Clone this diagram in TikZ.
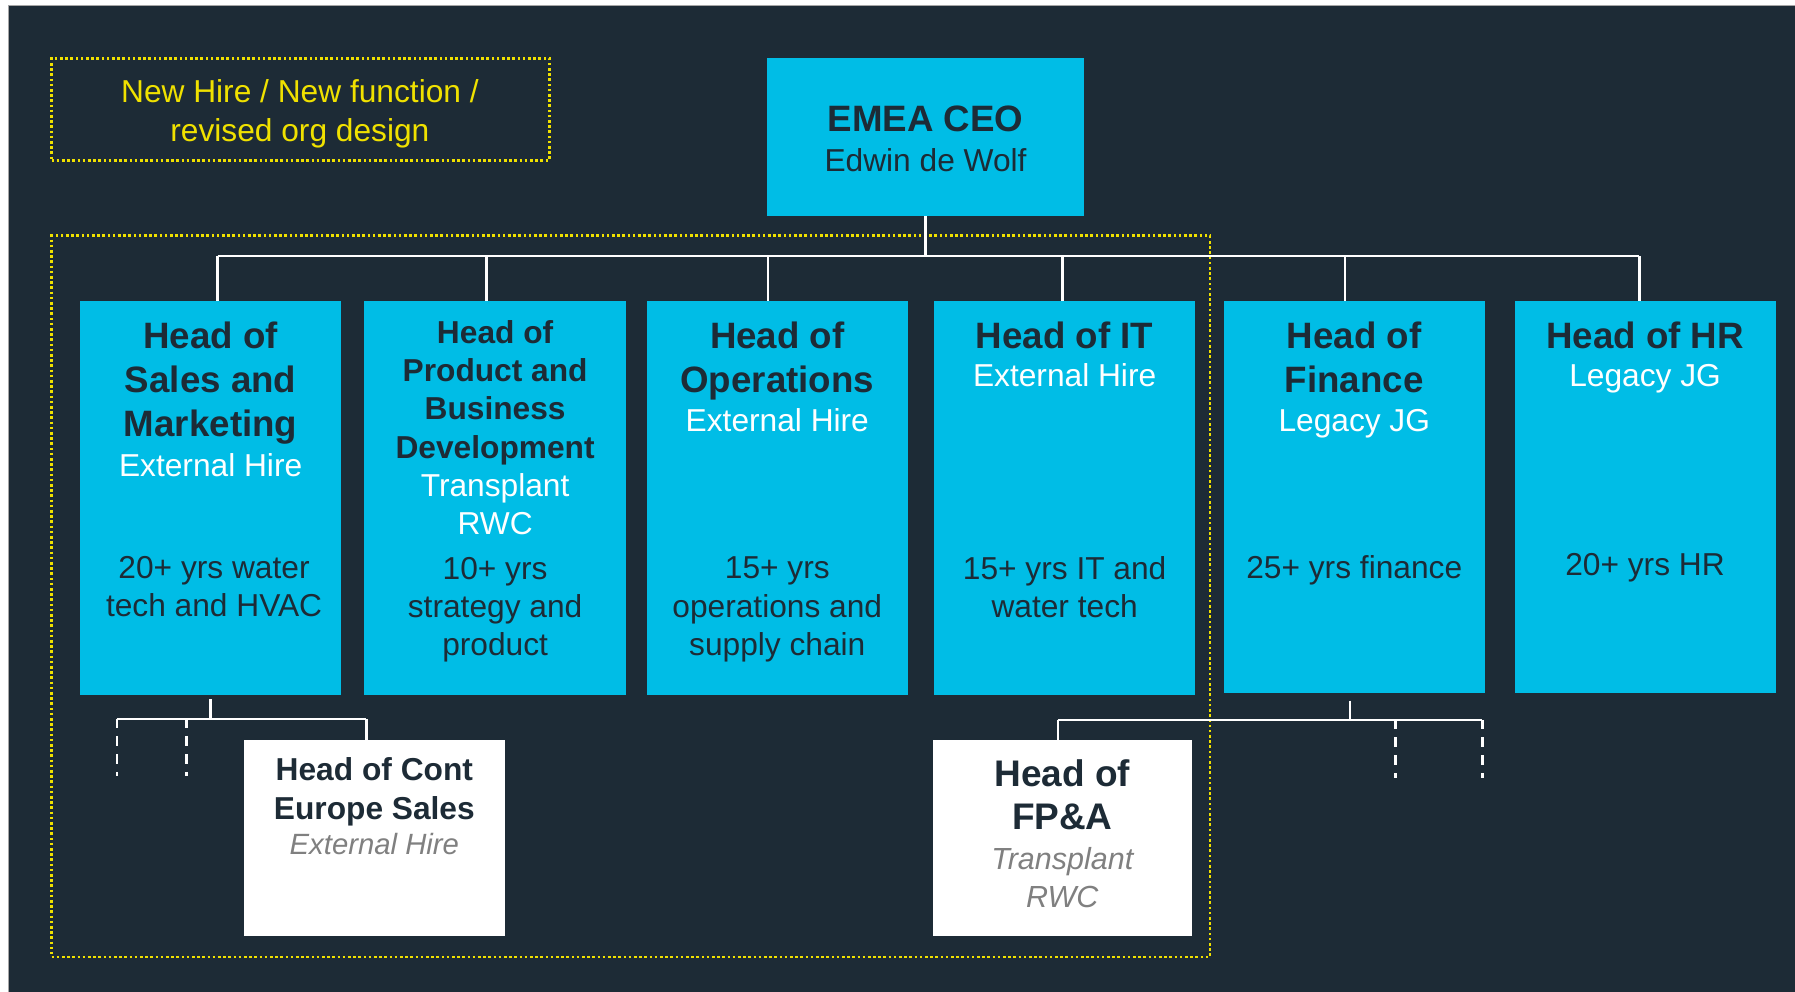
\documentclass[tikz,border=0pt]{standalone}
\usepackage{fontspec}
\setmainfont{Liberation Sans}
\usetikzlibrary{fit}
\definecolor{bg}{HTML}{1D2B36}
\definecolor{cyanbox}{HTML}{00BDE6}
\definecolor{ylw}{HTML}{F0E100}
\definecolor{gry}{HTML}{808080}
\newcommand\fhead{\fontsize{36.7}{44}\selectfont\bfseries}
\newcommand\fheadm{\fontsize{31.7}{38.2}\selectfont\bfseries}
\newcommand\freg{\fontsize{31.7}{38.2}\selectfont}
\newcommand\fitl{\fontsize{30.5}{38}\selectfont\itshape}
\begin{document}
\begin{tikzpicture}[x=1.1448pt,y=-1.1448pt,
  box/.style={fill=cyanbox,inner sep=0pt,outer sep=0pt,draw=none},
  wbox/.style={fill=white,inner sep=0pt,outer sep=0pt,draw=none},
  conn/.style={draw=white,line width=2.4pt},
  dconn/.style={draw=white,line width=2.4pt,dash pattern=on 10pt off 8pt,dash phase=1pt},
  dotbox/.style={draw=ylw,line width=2.7pt,dash pattern=on 2.6pt off 2.6pt},
  txt/.style={inner sep=0pt,outer sep=0pt,align=center,text depth=0pt},
  hd/.style={txt,font=\fhead,text=bg},
  hdm/.style={txt,font=\fheadm,text=bg},
  sub/.style={txt,font=\freg,text=white},
  body/.style={txt,font=\freg,text=bg},
  itl/.style={txt,font=\fitl,text=gry}]
\useasboundingbox (0,0) rectangle (1568,866.5);
\fill[white] (0,0) rectangle (1568,866.5);
\fill[bg] (7.5,5) rectangle (1568,866.5);
\draw[gray!70,line width=0.8pt] (7.5,866.5) -- (7.5,5) -- (1568,5);

% legend
\node[dotbox,inner sep=0pt,fit={(45,51)(480,140)}] (legend) {};
\node[txt,font=\freg,text=ylw] (legendtxt) at (262,96.5) {New Hire / New function /\\revised org design};

% dotted group
\node[dotbox,inner sep=0pt,fit={(45,206)(1057,836)}] (group) {};

% CEO
\node[box,fit={(670,51)(947,189)}] (ceo) {};
\node[hd] (ceot) at (808.5,104) {EMEA CEO};
\node[body] (ceon) at (808.5,140) {Edwin de Wolf};

% level 2 boxes
\node[box,fit={(70,263)(298,607)}] (b1) {};
\node[box,fit={(318,263)(547,607)}] (b2) {};
\node[box,fit={(565,263)(793,607)}] (b3) {};
\node[box,fit={(816,263)(1044,607)}] (b4) {};
\node[box,fit={(1069,263)(1297,605)}] (b5) {};
\node[box,fit={(1323,263)(1551,605)}] (b6) {};

% white boxes
\node[wbox,fit={(213,646)(441,818)}] (w1) {};
\node[wbox,fit={(815,646)(1041,818)}] (w2) {};

% texts box 1
\node[hd] (b1t) at (184,331.5) {Head of\\Sales and\\Marketing};
\node[sub] (b1s) at (184,406) {External Hire};
\node[body] (b1b) at (187,512.5) {20+ yrs water\\tech and HVAC};
% box 2
\node[hdm] (b2t) at (432.5,340) {Head of\\Product and\\Business\\Development};
\node[sub] (b2s) at (432.5,440) {Transplant\\RWC};
\node[body] (b2b) at (432.5,529.5) {10+ yrs\\strategy and\\product};
% box 3
\node[hd] (b3t) at (679,312) {Head of\\Operations};
\node[sub] (b3s) at (679,367) {External Hire};
\node[body] (b3b) at (679,529.5) {15+ yrs\\operations and\\supply chain};
% box 4
\node[hd] (b4t) at (930,293) {Head of IT};
\node[sub] (b4s) at (930,328) {External Hire};
\node[body] (b4b) at (930,512.5) {15+ yrs IT and\\water tech};
% box 5
\node[hd] (b5t) at (1183,312) {Head of\\Finance};
\node[sub] (b5s) at (1183,367) {Legacy JG};
\node[body] (b5b) at (1183,495) {25+ yrs finance};
% box 6
\node[hd] (b6t) at (1437,293) {Head of HR};
\node[sub] (b6s) at (1437,328) {Legacy JG};
\node[body] (b6b) at (1437,493) {20+ yrs HR};

% white box texts
\node[txt,font={\fontsize{31.7}{39}\selectfont\bfseries},text=bg] (w1t) at (327,689) {Head of Cont\\Europe Sales};
\node[txt,font={\fontsize{29.3}{36}\selectfont\itshape},text=gry] (w1s) at (327,737) {External Hire};
\node[txt,font={\fontsize{37}{43.5}\selectfont\bfseries},text=bg] (w2t) at (928,694) {Head of\\FP\&A};
\node[itl] (w2s) at (928,766.5) {Transplant\\RWC};

% connectors level 1 -> 2
\coordinate (j1) at (190,223.5);
\coordinate (j2) at (425,223.5);
\coordinate (j3) at (671,223.5);
\coordinate (j4) at (928,223.5);
\coordinate (j5) at (1175,223.5);
\coordinate (j6) at (1432,223.5);
\draw[conn] (ceo.south) -- (ceo.south |- j1);
\draw[conn] (j1) -- (j6);
\draw[conn] (j1) -- (j1 |- b1.north);
\draw[conn] (j2) -- (j2 |- b2.north);
\draw[conn] (j3) -- (j3 |- b3.north);
\draw[conn] (j4) -- (j4 |- b4.north);
\draw[conn] (j5) -- (j5 |- b5.north);
\draw[conn] (j6) -- (j6 |- b6.north);

% sales sub-tree
\coordinate (s0) at (184,611);
\coordinate (sa) at (102,628);
\coordinate (sb) at (163,628);
\coordinate (sc) at (320,628);
\coordinate (sae) at (102,678);
\coordinate (sbe) at (163,678);
\draw[conn] (s0) -- (s0 |- sa);
\draw[conn] (sa) -- (sc);
\draw[conn] (sc) -- (sc |- w1.north);
\draw[dconn] (sa) -- (sae);
\draw[dconn] (sb) -- (sbe);

% finance sub-tree
\coordinate (f0) at (1179,612);
\coordinate (fa) at (924,629);
\coordinate (fb) at (1219,629);
\coordinate (fc) at (1295,629);
\coordinate (fbe) at (1219,680);
\coordinate (fce) at (1295,680);
\draw[conn] (f0) -- (f0 |- fa);
\draw[conn] (fa) -- (fc);
\draw[conn] (fa) -- (fa |- w2.north);
\draw[dconn] (fb) -- (fbe);
\draw[dconn] (fc) -- (fce);
\end{tikzpicture}
\end{document}
